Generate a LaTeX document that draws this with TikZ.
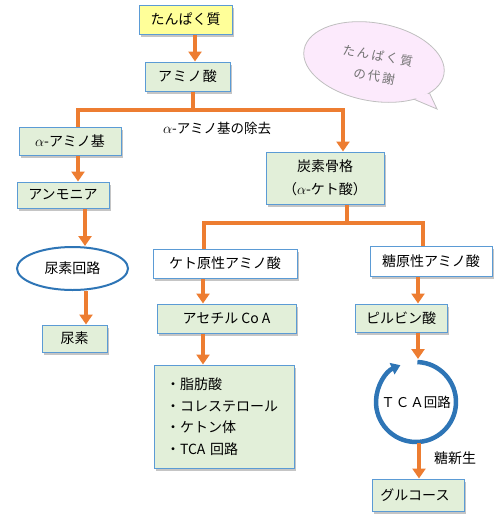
\documentclass[tikz,border=0pt]{standalone}
\usepackage{fontspec}
\setmainfont{Noto Sans CJK JP}
\usetikzlibrary{arrows.meta,shadows,calc,shapes.geometric}
\definecolor{ora}{HTML}{ED7D31}
\definecolor{bord}{HTML}{5B9BD5}
\definecolor{grn}{HTML}{E2EFD9}
\definecolor{yel}{HTML}{FFFF99}
\definecolor{dblue}{HTML}{2E75B6}
\definecolor{pinkb}{HTML}{FCEAFC}
\begin{document}
\begin{tikzpicture}[x=1pt,y=-1pt,
  box/.style={draw=bord, line width=1pt, fill=grn, inner sep=0pt,
    font=\fontsize{14}{16}\selectfont,
    drop shadow={shadow xshift=2pt, shadow yshift=-2.5pt, fill=black!45, opacity=0.5}},
  wbox/.style={box, fill=white},
  conn/.style={draw=ora, line width=3.5pt},
  arr/.style={conn, -{Triangle[width=13pt,length=10pt]}},
  lbl/.style={font=\fontsize{13.5}{15}\selectfont, inner sep=0pt}]
\useasboundingbox (0,0) rectangle (502,528);

% bubble
\begin{scope}
  \fill[pinkb, draw=black!25, line width=0.8pt] (411,98) -- (437,109) -- (429,92) -- cycle;
  \draw[black!25, fill=pinkb, line width=0.8pt, rotate around={-10:(374,62)}] (374,62) ellipse [x radius=71pt, y radius=39pt];
  \fill[pinkb] (413.5,97.5) -- (434,106) -- (428,93.5) -- cycle;
\end{scope}
\node[rotate=-10, align=center, text=black!55, font=\fontsize{12.5}{21}\selectfont] (bub) at (376,66) {た\,ん\,ぱ\,く\,質\\の\,代\,謝};

% boxes
\node[box, fill=yel, minimum width=93pt, minimum height=29pt] (prot) at (185.5,19.5) {たんぱく質};
\node[box, minimum width=85pt, minimum height=29pt] (amino) at (187.5,76.5) {ア\kern1ptミ\kern1ptノ\kern1pt酸};
\node[box, minimum width=102pt, minimum height=28pt] (aamino) at (70,141) {$\alpha$-アミノ基};
\node[box, minimum width=92pt, minimum height=26pt] (ammonia) at (63,195) {アンモニア};
\node[draw=dblue, line width=2pt, ellipse, fill=white, minimum width=111pt, minimum height=43pt, inner sep=0pt, font=\fontsize{14}{16}\selectfont] (ucycle) at (72.5,268.5) {尿素回路};
\node[box, minimum width=65pt, minimum height=27pt] (urea) at (74.5,338.5) {尿素};
\node[box, minimum width=118pt, minimum height=52pt, align=center, font=\fontsize{14}{23}\selectfont] (carbon) at (325,178) {炭素骨格\\（$\alpha$-ケト酸）};
\node[wbox, minimum width=144pt, minimum height=29pt] (keto) at (225,263.5) {ケト原性アミノ酸};
\node[wbox, minimum width=122pt, minimum height=30pt] (gluco) at (431,261) {糖原性アミノ酸};
\node[box, minimum width=139pt, minimum height=29pt] (acetyl) at (226.5,318.5) {アセチル Co A};
\node[box, minimum width=92pt, minimum height=28pt] (pyr) at (401,318) {ピルビン酸};
\node[box, text width=116pt, inner xsep=12pt, minimum height=103pt, align=left, font=\fontsize{14}{21.5}\selectfont] (list) at (224,416.5) {・脂肪酸\\・コレステロール\\・ケトン体\\・TCA 回路};
\node[circle, minimum size=80pt, inner sep=0pt, font=\fontsize{13.5}{15}\selectfont] (tca) at (416,402) {Ｔ\kern1ptＣ\kern1ptＡ回路};
\node[box, minimum width=92pt, minimum height=32pt] (glucose) at (418,495) {\hspace*{-6pt}グルコース};

% TCA arc
\begin{scope}[shift={(416,402)}, yscale=-1]
  \draw[dblue, line width=4.5pt, -{Triangle[width=12pt,length=9pt]}] (88:40) arc[start angle=88, end angle=-247, radius=40];
\end{scope}

% labels
\node[lbl] (lremove) at (217,128) {$\alpha$-アミノ基の除去};
\node[font=\fontsize{14}{16}\selectfont, inner sep=0pt] (lgng) at (455,458) {糖新生};

% connectors
\coordinate (jL) at (78,110);
\coordinate (jM) at (193,110);
\coordinate (jR) at (343,110);
\coordinate (kL) at (204,223);
\coordinate (kM) at (347,223);
\coordinate (kR) at (423,223);

\draw[arr] (prot.south -| 195,0) -- (amino.north -| 195,0);
\draw[conn] (amino.south -| jM) -- (jM);
\draw[conn] (aamino.north -| jL) -- (jL) -- ([xshift=1.75pt]jR);
\draw[arr] (jR) -- (carbon.north -| jR);
\draw[arr] (aamino.south -| 78,0) -- (ammonia.north -| 78,0);
\draw[arr] (ammonia.south -| 85,0) -- (ucycle.north -| 85,0);
\draw[arr] (ucycle.south -| 86,0) -- (urea.north -| 86,0);
\draw[conn] (carbon.south -| kM) -- (kM);
\draw[conn] (keto.north -| kL) -- (kL) -- (kR) -- (gluco.north -| kR);
\draw[arr] (keto.south -| 203,0) -- (acetyl.north -| 203,0);
\draw[arr] (acetyl.south -| 203,0) -- (list.north -| 203,0);
\draw[arr] (gluco.south -| 418,0) -- (pyr.north -| 418,0);
\draw[arr] (pyr.south -| 418,0) -- (418,359);
\draw[arr] (419,443) -- (glucose.north -| 419,0);
\end{tikzpicture}
\end{document}
